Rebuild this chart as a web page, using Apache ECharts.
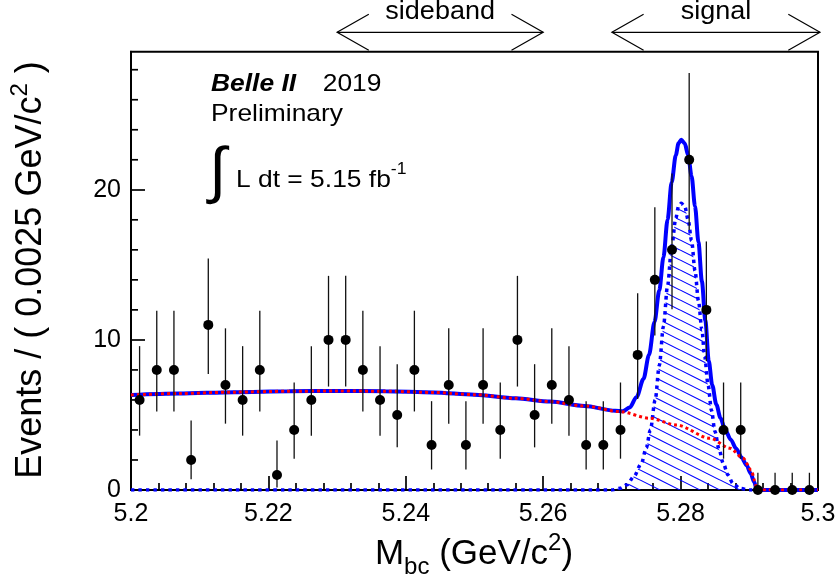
<!DOCTYPE html>
<html><head><meta charset="utf-8">
<script src="https://cdn.jsdelivr.net/npm/echarts@6/dist/echarts.min.js"></script>
<style>html,body{margin:0;padding:0;background:#fff}#c{width:840px;height:585px}</style>
</head><body><div id="c"></div>
<script>
// ---- data ----
const binCenters = [5.20125,5.20375,5.20625,5.20875,5.21125,5.21375,5.21625,5.21875,5.22125,5.22375,
  5.22625,5.22875,5.23125,5.23375,5.23625,5.23875,5.24125,5.24375,5.24625,5.24875,
  5.25125,5.25375,5.25625,5.25875,5.26125,5.26375,5.26625,5.26875,5.27125,5.27375,
  5.27625,5.27875,5.28125,5.28375,5.28625,5.28875,5.29125,5.29375,5.29625,5.29875];
const counts = [6,8,8,2,11,7,6,8,1,4,6,10,10,8,6,5,8,3,7,3,7,4,10,5,7,6,3,3,4,9,14,16,22,12,4,4,0,0,0,0];
const errLow = [2.379,2.768,2.768,1.291,3.266,2.580,2.379,2.768,0.827,1.914,2.379,3.108,3.108,2.768,2.379,2.159,2.768,1.633,2.580,1.633,
  2.580,1.914,3.108,2.159,2.580,2.379,1.633,1.633,1.914,2.943,3.700,3.965,4.672,3.416,1.914,1.914,0,0,0,0];
const errHigh = [3.583,3.944,3.944,2.637,4.416,3.770,3.583,3.944,2.299,3.162,3.583,4.266,4.266,3.944,3.583,3.382,3.944,2.918,3.770,2.918,
  3.770,3.162,4.266,3.382,3.770,3.583,2.918,2.918,3.162,4.110,4.831,5.089,5.788,4.559,3.162,3.162,1.148,1.148,1.148,1.148];

const bkgX = [5.200,5.207,5.215,5.223,5.230,5.237,5.244,5.250,5.256,5.261,5.266,5.2712,5.2755,5.2794,5.2843,5.2872,5.2891,5.2903,5.2908,5.2911,5.300];
const bkgY = [6.33,6.43,6.52,6.58,6.60,6.58,6.50,6.35,6.11,5.89,5.60,5.22,4.78,4.33,3.44,2.78,2.11,1.33,0.6,0,0];

const sigX = [5.200,5.2700,5.2712,5.2722,5.2732,5.2743,5.2750,5.2756,5.2763,5.2769,5.2775,5.2781,5.2787,5.2793,5.2797,5.2801,5.2806,5.2811,5.2816,5.2821,5.2826,5.2831,5.2835,5.2840,5.2845,5.2850,5.2856,5.2862,5.2869,5.2876,5.2886,5.2900,5.300];
const sigY = [0,0,0.11,0.35,0.9,1.78,2.8,4.0,6.0,8.3,10.9,13.6,16.2,18.1,18.9,19.1,18.9,18.0,16.6,14.6,12.6,10.67,8.9,7.0,5.3,3.9,2.7,1.78,1.0,0.45,0.11,0,0];

const totX = [5.200,5.207,5.215,5.223,5.230,5.237,5.244,5.250,5.256,5.261,5.266,5.2705,5.2716,5.2726,5.2736,5.2746,5.2754,5.2762,5.2769,5.2775,5.2781,5.2787,5.2793,5.2797,5.2801,5.2806,5.2811,5.2816,5.2821,5.2826,5.2831,5.2836,5.2841,5.2846,5.2852,5.2858,5.2865,5.2873,5.2881,5.2889,5.2896,5.2902,5.2907,5.2911,5.300];
const totY = [6.33,6.43,6.52,6.58,6.60,6.58,6.50,6.35,6.11,5.89,5.60,5.28,5.25,5.5,6.2,7.4,9.0,11.2,13.3,15.5,18.0,20.5,22.3,23.1,23.33,23.1,22.3,20.9,18.9,16.5,13.9,11.3,8.6,7.0,5.7,4.8,4.0,3.35,2.75,2.15,1.65,1.1,0.55,0,0];

const xMin = 5.2, xMax = 5.3, xStep = 0.02;
const yMin = 0, yMax = 29.2, yStep = 10;
const yMinorTicks = [2,4,6,8,12,14,16,18,22,24,26,28];
const bands = [{name:'sideband', from:5.23, to:5.26}, {name:'signal', from:5.27, to:5.30}];

// ---- chart ----
const FONT = 'Liberation Sans';
const chart = echarts.init(document.getElementById('c'), null, {renderer:'canvas'});

const hatch = document.createElement('canvas');
hatch.width = 40; hatch.height = 20;
(function(){
  const g = hatch.getContext('2d');
  g.strokeStyle = '#0000ff'; g.lineWidth = 1.1;
  for (let c = -40; c <= 40; c += 10) {
    g.beginPath(); g.moveTo(0, c); g.lineTo(40, c + 20); g.stroke();
  }
})();

const pair = (xs, ys) => xs.map((x, i) => [x, ys[i]]);

chart.setOption({
  animation: false,
  backgroundColor: '#fff',
  grid: {left:131, right:22, top:51.7, bottom:95, show:true, backgroundColor:'transparent', borderColor:'#000', borderWidth:2, containLabel:false},
  xAxis: {
    type:'value', min:xMin, max:xMax, interval:xStep,
    axisLine:{show:true, lineStyle:{color:'#000', width:2}},
    axisTick:{show:true, inside:true, length:14, lineStyle:{color:'#000', width:1.7}},
    minorTick:{show:true, splitNumber:5, length:7, lineStyle:{color:'#000', width:1.7}},
    splitLine:{show:false}, minorSplitLine:{show:false},
    axisLabel:{show:true, margin:12, color:'#000', fontSize:25, fontFamily:FONT,
      formatter: v => String(+(+v).toFixed(3))}
  },
  yAxis: {
    type:'value', min:yMin, max:yMax, interval:yStep,
    axisLine:{show:true, lineStyle:{color:'#000', width:2}},
    axisTick:{show:true, inside:true, length:14, lineStyle:{color:'#000', width:1.7}},
    minorTick:{show:false},
    splitLine:{show:false},
    axisLabel:{show:true, margin:10, color:'#000', fontSize:25, fontFamily:FONT,
      showMaxLabel:false,
      formatter: v => (Math.abs(v % yStep) < 1e-6 ? String(Math.round(v)) : '')}
  },
  series: [
    {type:'line', name:'sigArea', data:pair(sigX, sigY), showSymbol:false, smooth:0.3, smoothMonotone:'x',
      lineStyle:{width:0, opacity:0}, areaStyle:{color:{image:hatch, repeat:'repeat'}, opacity:1}, z:2, silent:true},
    {type:'line', name:'signal', data:pair(sigX, sigY), showSymbol:false, smooth:0.3, smoothMonotone:'x',
      lineStyle:{color:'#0000ff', width:3.5, type:[3.5,4]}, z:3, silent:true},
    {type:'line', name:'total', data:pair(totX, totY), showSymbol:false, smooth:0.3, smoothMonotone:'x',
      lineStyle:{color:'#0000ff', width:4}, z:4, silent:true},
    {type:'line', name:'bkg', data:pair(bkgX, bkgY), showSymbol:false, smooth:0.3, smoothMonotone:'x',
      lineStyle:{color:'#ff0000', width:3, type:[3,3]}, z:5, silent:true},
    {type:'custom', name:'err', z:7, silent:true,
      data: binCenters.map((x, i) => [x, counts[i], errLow[i], errHigh[i]]),
      encode:{x:0, y:1},
      renderItem: (params, api) => {
        const x = api.value(0), y = api.value(1), lo = api.value(2), hi = api.value(3);
        const p1 = api.coord([x, y - lo]), p2 = api.coord([x, y + hi]);
        return {type:'line', shape:{x1:p1[0], y1:p1[1], x2:p2[0], y2:p2[1]}, style:{stroke:'#111', lineWidth:1.3}};
      }},
    {type:'scatter', name:'data', data: binCenters.map((x, i) => [x, counts[i]]),
      symbol:'circle', symbolSize:10, itemStyle:{color:'#000', opacity:1}, z:8, silent:true}
  ]
});

// ---- texts & annotations ----
const mctx = document.createElement('canvas').getContext('2d');
function fontStr(p){ return (p.style||'normal')+' '+(p.weight||'normal')+' '+p.size+'px "'+FONT+'"'; }
function run(x0, base, pieces, sx){
  sx = sx || 1;
  let x = x0; const els = [];
  pieces.forEach(p => {
    mctx.font = fontStr(p);
    const w = mctx.measureText(p.t).width * sx;
    els.push({type:'text', x:x, y: base + (p.dy||0) - 0.35*p.size, scaleX:sx, silent:true,
      style:{text:p.t, fontSize:p.size, fontFamily:FONT, fontWeight:p.weight||'normal', fontStyle:p.style||'normal',
        fill:'#000', align:'left', textAlign:'left', verticalAlign:'middle', textVerticalAlign:'middle'}});
    x += w;
  });
  return {els, width: x - x0};
}
function shift(els, dx){ els.forEach(e => e.x += dx); return els; }

const g = [];
// minor y ticks every 2 (inside), positioned through the axis scales
const xPix = v => chart.convertToPixel({xAxisIndex:0}, v);
const yPix = v => chart.convertToPixel({yAxisIndex:0}, v);
const x0p = xPix(xMin);
yMinorTicks.forEach(v => {
  const y = yPix(v);
  g.push({type:'line', silent:true, shape:{x1:x0p, y1:y, x2:x0p + 7, y2:y}, style:{stroke:'#000', lineWidth:1.7}});
});

// text block
g.push(...run(211, 92.3, [{t:'Belle II', size:24, weight:'bold', style:'italic'}], 1.1).els);
g.push(...run(322.7, 92.3, [{t:'2019', size:24}], 1.1).els);
g.push(...run(211, 122.3, [{t:'Preliminary', size:24}], 1.1).els);
g.push(...run(209, 196, [{t:'\u222B', size:62}]).els);
g.push(...run(236, 188.3, [{t:'L dt = 5.15 fb', size:24}, {t:'-1', size:16, dy:-13}], 1.1).els);

// x title
const xt = run(0, 567, [{t:'M', size:35}, {t:'bc', size:24, dy:9}, {t:' (GeV/c', size:35}, {t:'2', size:24, dy:-15}, {t:')', size:35}]);
g.push(...shift(xt.els, 474 - xt.width/2));

// y title (rotated)
const yt = run(0, 0, [{t:'Events / ( 0.0025 GeV/c', size:36}, {t:'2', size:24, dy:-15}, {t:' )', size:36}]);
shift(yt.els, -yt.width/2);
g.push({type:'group', x:44, y:270, rotation:Math.PI/2, children: yt.els});

// bands with double arrows
const yShaft = 32.3, dxh = 31.7, dyh = 18;
bands.forEach(b => {
  const xa = xPix(b.from);
  const xb = xPix(b.to) + (b.to >= xMax ? 2 : 0);
  const st = {stroke:'#000', lineWidth:1.2, fill:null};
  g.push({type:'line', silent:true, shape:{x1:xa, y1:yShaft, x2:xb, y2:yShaft}, style:st});
  g.push({type:'polyline', silent:true, shape:{points:[[xa+dxh, yShaft-dyh],[xa, yShaft],[xa+dxh, yShaft+dyh]]}, style:st});
  g.push({type:'polyline', silent:true, shape:{points:[[xb-dxh, yShaft-dyh],[xb, yShaft],[xb-dxh, yShaft+dyh]]}, style:st});
  const t = run(0, 20.7, [{t:b.name, size:25}], 1.08);
  g.push(...shift(t.els, (xa + xb)/2 - t.width/2));
});

chart.setOption({graphic: g});
</script>
</body></html>
